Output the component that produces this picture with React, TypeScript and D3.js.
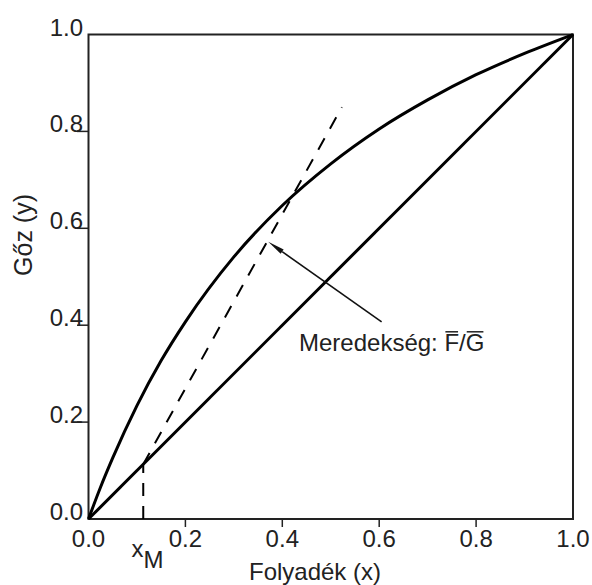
import React from "react";
import * as d3 from "d3";

// ---- data ----
const eqX = [0, 0.025, 0.05, 0.1, 0.15, 0.2, 0.3, 0.4, 0.5, 0.6, 0.7, 0.8, 0.9, 1.0];
const eqY = [0, 0.066, 0.126, 0.234, 0.327, 0.407, 0.541, 0.647, 0.733, 0.805, 0.865, 0.917, 0.961, 1.0];
const diagX = [0, 1];
const diagY = [0, 1];
const tickValues = [0, 0.2, 0.4, 0.6, 0.8, 1.0];
const tickLabels = ["0.0", "0.2", "0.4", "0.6", "0.8", "1.0"];
const xM = 0.113;
const slopeLineX = [0.113, 0.523];
const slopeLineY = [0.113, 0.85];
const arrowTip = [0.371, 0.572];
const arrowTail = [0.605, 0.407];
const xTitle = "Folyadék (x)";
const yTitle = "Gőz (y)";
const annotationText = "Meredekség: ";

const W = 592;
const H = 585;
const left = 88.5;
const right = 573;
const top = 34.5;
const bottom = 519;
const FONT = "'Liberation Sans', Arial, Helvetica, sans-serif";
const FS = 24;

export default function App() {
  const x = d3.scaleLinear().domain([0, 1]).range([left, right]);
  const y = d3.scaleLinear().domain([0, 1]).range([bottom, top]);

  const lineGen = d3
    .line<number>()
    .x((_, i) => x(eqX[i]))
    .y((d) => y(d))
    .curve(d3.curveMonotoneX);
  const eqPath = lineGen(eqY) || "";

  const diagPath =
    d3
      .line<number>()
      .x((_, i) => x(diagX[i]))
      .y((d) => y(d))(diagY) || "";

  const slopePath =
    d3
      .line<number>()
      .x((_, i) => x(slopeLineX[i]))
      .y((d) => y(d))(slopeLineY) || "";

  // arrow geometry
  const tx = x(arrowTip[0]);
  const ty = y(arrowTip[1]);
  const sx = x(arrowTail[0]);
  const sy = y(arrowTail[1]);
  const ang = Math.atan2(ty - sy, tx - sx);
  const headLen = 17;
  const headHalf = 2.6;
  const bx = tx - headLen * Math.cos(ang);
  const by = ty - headLen * Math.sin(ang);
  const px = -Math.sin(ang) * headHalf;
  const py = Math.cos(ang) * headHalf;
  const headPts = `${tx},${ty} ${bx + px},${by + py} ${bx - px},${by - py}`;

  // annotation text layout (Arial metrics)
  const annX = 299;
  const annY = 351;
  const fStart = annX + 6.058 * FS;
  const fEnd = fStart + 0.611 * FS;
  const gStart = fEnd + 0.278 * FS;
  const gEnd = gStart + 0.778 * FS;
  const barY = annY - 0.8 * FS;

  return (
    <svg
      width={W}
      height={H}
      style={{ position: "absolute", left: 0, top: 0, background: "#fff" }}
      fontFamily={FONT}
    >
      <rect x={0} y={0} width={W} height={H} fill="#fff" />
      {/* frame */}
      <rect
        x={left}
        y={top}
        width={right - left}
        height={bottom - top}
        fill="none"
        stroke="#222"
        strokeWidth={2}
      />
      {/* y ticks */}
      {tickValues.map((v, i) =>
        v > 0 && v < 1 ? (
          <line key={"yt" + i} x1={77} x2={left} y1={y(v)} y2={y(v)} stroke="#222" strokeWidth={1.5} />
        ) : null
      )}
      {/* x ticks */}
      {tickValues.map((v, i) =>
        v > 0 && v < 1 ? (
          <line key={"xt" + i} x1={x(v)} x2={x(v)} y1={bottom} y2={bottom + 8} stroke="#222" strokeWidth={1.5} />
        ) : null
      )}
      {/* y tick labels */}
      {tickValues.map((v, i) => (
        <text key={"yl" + i} x={83} y={y(v) + 1} textAnchor="end" fontSize={FS} fill="#222">
          {tickLabels[i]}
        </text>
      ))}
      {/* x tick labels */}
      {tickValues.map((v, i) => (
        <text key={"xl" + i} x={x(v)} y={547} textAnchor="middle" fontSize={FS} fill="#222">
          {tickLabels[i]}
        </text>
      ))}
      {/* axis titles */}
      <text x={315} y={580} textAnchor="middle" fontSize={FS} fill="#222">
        {xTitle}
      </text>
      <text
        transform={`translate(32,235) rotate(-90)`}
        textAnchor="middle"
        fontSize={25}
        fill="#222"
      >
        {yTitle}
      </text>
      {/* x_M label */}
      <text x={131.5} y={557} fontSize={FS} fill="#222">
        x
      </text>
      <text x={143.5} y={568} fontSize={FS} fill="#222">
        M
      </text>
      {/* diagonal */}
      <path d={diagPath} fill="none" stroke="#000" strokeWidth={3} />
      {/* equilibrium curve */}
      <path d={eqPath} fill="none" stroke="#000" strokeWidth={3} />
      {/* vertical dashed at xM */}
      <line
        x1={x(xM)}
        x2={x(xM)}
        y1={bottom}
        y2={y(xM)}
        stroke="#000"
        strokeWidth={2}
        strokeDasharray="13,10"
      />
      {/* sloped dashed line */}
      <path d={slopePath} fill="none" stroke="#000" strokeWidth={2} strokeDasharray="13,11" />
      {/* arrow */}
      <line x1={sx} y1={sy} x2={bx} y2={by} stroke="#111" strokeWidth={1.6} />
      <polygon points={headPts} fill="#111" />
      {/* annotation */}
      <text x={annX} y={annY} fontSize={FS} fill="#222">
        {annotationText}
        <tspan>F</tspan>
        <tspan>/</tspan>
        <tspan>G</tspan>
      </text>
      <line x1={fStart + 1} x2={fEnd - 1} y1={barY} y2={barY} stroke="#222" strokeWidth={1.5} />
      <line x1={gStart + 1} x2={gEnd - 1} y1={barY} y2={barY} stroke="#222" strokeWidth={1.5} />
    </svg>
  );
}
